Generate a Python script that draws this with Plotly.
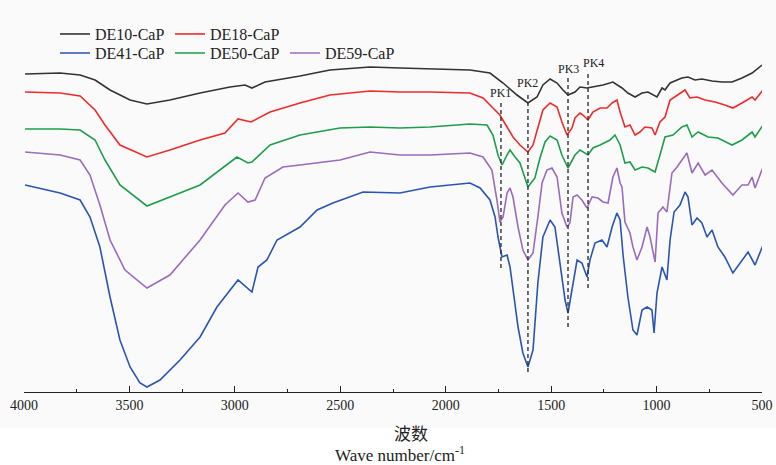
import plotly.graph_objects as go

# FTIR spectra, offset curves (arbitrary transmittance units)
wn_de10 = [3995, 3829, 3734, 3663, 3592, 3497, 3417, 3308, 3165, 3023, 2952, 2919, 2857, 2691, 2549, 2359, 2217,
           2074, 1885, 1790, 1728, 1662, 1610, 1567, 1539, 1505, 1472, 1444, 1420, 1387, 1363, 1330, 1302, 1254,
           1207, 1164, 1136, 1102, 1069, 1041, 998, 974, 960, 936, 880, 851, 818, 785, 737, 690, 642, 595, 547, 500]
t_de10 = [319, 320, 318, 313, 303, 293, 289, 293, 300, 306, 308, 305, 311, 317, 323, 326, 325,
          324, 323, 320, 310, 298, 290, 296, 308, 314, 310, 303, 298, 301, 306, 305, 306, 308,
          311, 305, 300, 296, 300, 301, 296, 305, 303, 310, 315, 316, 313, 314, 312, 311, 311, 315, 320, 328]

wn_de18 = [3995, 3829, 3734, 3663, 3616, 3545, 3417, 3308, 3165, 3047, 2985, 2923, 2833, 2691, 2549, 2359, 2217,
           2074, 1885, 1823, 1776, 1743, 1709, 1681, 1648, 1610, 1586, 1563, 1539, 1505, 1472, 1449, 1425, 1401,
           1387, 1363, 1349, 1325, 1302, 1268, 1235, 1211, 1188, 1173, 1150, 1126, 1102, 1079, 1055, 1022, 1007,
           984, 960, 936, 903, 865, 842, 808, 770, 723, 676, 638, 595, 547, 533, 495]
t_de18 = [301, 300, 297, 283, 268, 248, 236, 243, 253, 260, 274, 271, 281, 290, 298, 302, 301,
          301, 300, 295, 285, 278, 266, 256, 248, 241, 248, 265, 283, 290, 286, 271, 258, 265,
          275, 280, 278, 273, 281, 285, 285, 290, 293, 281, 266, 268, 258, 261, 266, 265, 258,
          271, 276, 293, 298, 303, 295, 296, 293, 291, 288, 285, 290, 296, 293, 303]

wn_de41 = [3995, 3829, 3734, 3687, 3640, 3592, 3545, 3497, 3450, 3417, 3355, 3260, 3165, 3085, 2985, 2919, 2890,
           2848, 2800, 2691, 2610, 2535, 2392, 2217, 2074, 1885,
           1837, 1790, 1766, 1752, 1733, 1709, 1695, 1681, 1657, 1634, 1610, 1586, 1563, 1539, 1505, 1482, 1458,
           1434, 1420, 1401, 1377, 1354, 1330, 1316, 1292, 1259, 1235, 1211, 1188, 1173, 1159, 1136, 1112, 1093,
           1069, 1045, 1022, 1012, 998, 974, 951, 936, 917, 889, 865, 851, 832, 808, 785, 761, 737, 709, 676, 638,
           595, 566, 533, 495]
t_de41 = [208, 200, 193, 176, 146, 96, 53, 26, 10, 6, 13, 33, 56, 86, 113, 101, 126,
          133, 153, 166, 183, 190, 201, 200, 206, 210,
          205, 193, 176, 156, 136, 138, 126, 103, 66, 40, 26, 43, 110, 156, 173, 166, 130,
          93, 80, 103, 133, 130, 116, 133, 150, 153, 146, 166, 180, 173, 138, 96, 63, 58,
          83, 86, 83, 60, 100, 126, 113, 153, 181, 188, 201, 196, 168, 175, 170, 156, 163, 146, 136, 120,
          133, 141, 128, 148]

wn_de50 = [3995, 3829, 3734, 3663, 3616, 3545, 3417, 3308, 3165, 2990, 2938, 2919, 2833, 2691, 2501, 2359, 2217,
           2074, 1885, 1804, 1776, 1752, 1733, 1709, 1695, 1671, 1648, 1610, 1577, 1553, 1529, 1505, 1472, 1449,
           1420, 1387, 1363, 1325, 1302, 1268, 1221, 1197, 1173, 1150, 1126, 1102, 1069, 1041, 1007, 984, 960,
           922, 880, 856, 832, 803, 756, 709, 642, 595, 547, 533, 495]
t_de50 = [264, 264, 263, 253, 233, 208, 187, 196, 208, 236, 230, 231, 248, 258, 265, 266, 265,
          266, 269, 268, 258, 238, 228, 238, 243, 236, 230, 206, 215, 235, 251, 257, 253, 238,
          225, 238, 243, 238, 245, 248, 253, 258, 248, 230, 231, 223, 226, 225, 221, 238, 256,
          258, 266, 268, 256, 261, 256, 255, 248, 253, 261, 256, 268]

wn_de59 = [3995, 3829, 3734, 3687, 3640, 3592, 3521, 3417, 3308, 3165, 3047, 2985, 2938, 2904, 2857, 2772, 2691,
           2501, 2359, 2217, 2074, 1885,
           1823, 1781, 1757, 1743, 1728, 1709, 1695, 1681, 1657, 1634, 1610, 1586, 1563, 1543, 1520, 1496, 1472,
           1449, 1425, 1411, 1396, 1377, 1354, 1330, 1306, 1278, 1254, 1230, 1207, 1188, 1173, 1164, 1150, 1126,
           1112, 1093, 1069, 1045, 1031, 1007, 993, 970, 951, 927, 903, 856, 832, 803, 770, 737, 690, 638, 595,
           566, 547, 533, 495]
t_de59 = [241, 238, 233, 218, 188, 153, 123, 105, 118, 153, 188, 200, 191, 193, 215, 226, 228,
          233, 241, 238, 238, 240,
          236, 223, 193, 171, 176, 200, 205, 196, 166, 143, 133, 140, 176, 210, 223, 225, 216,
          180, 166, 170, 196, 198, 193, 185, 196, 195, 191, 190, 216, 225, 210, 206, 171, 160,
          146, 133, 146, 166, 156, 131, 180, 186, 181, 220, 226, 240, 220, 230, 218, 223, 210, 198, 208,
          208, 216, 205, 226]

series_names = ["DE10-CaP", "DE18-CaP", "DE41-CaP", "DE50-CaP", "DE59-CaP"]
series_wn = [wn_de10, wn_de18, wn_de41, wn_de50, wn_de59]
series_t = [t_de10, t_de18, t_de41, t_de50, t_de59]
colors = ["#333333", "#ee2b2b", "#2a55b2", "#1f9d4c", "#9b6bbd"]
legend_of = ["legend", "legend", "legend2", "legend2", "legend2"]

# characteristic peaks
peak_labels = ["PK1", "PK2", "PK3", "PK4"]
peak_wn = [1738, 1610, 1420, 1325]
peak_top = [291, 301, 315, 321]
peak_bottom = [125, 21, 66, 105]

fig = go.Figure()
for name, x, y, c, lg in zip(series_names, series_wn, series_t, colors, legend_of):
    fig.add_trace(go.Scatter(x=x, y=y, mode="lines", name=name, legend=lg,
                             line=dict(color=c, width=1.6)))

for lab, w, top, bot in zip(peak_labels, peak_wn, peak_top, peak_bottom):
    fig.add_trace(go.Scatter(x=[w, w], y=[bot, top], mode="lines", showlegend=False,
                             line=dict(color="#333333", width=1.4, dash="4px,3px")))
    fig.add_annotation(x=w, y=top, text=lab, showarrow=False, yanchor="bottom",
                       xshift=5 if lab == "PK4" else 0,
                       font=dict(family="Liberation Serif", size=12, color="#222222"))

serif = "Liberation Serif"
fig.update_layout(
    width=776, height=465,
    margin=dict(l=24, r=14, t=10, b=73),
    paper_bgcolor="#fafafa", plot_bgcolor="#fafafa",
    font=dict(family=serif, size=14, color="#222222"),
    xaxis=dict(range=[4000, 500], tickvals=[4000, 3500, 3000, 2500, 2000, 1500, 1000, 500],
               ticks="inside", ticklen=6, tickcolor="#222222", showline=True, linecolor="#222222",
               linewidth=1.2, showgrid=False, zeroline=False, automargin=False,
               minor=dict(dtick=250, tick0=500, ticks="inside", ticklen=3, tickcolor="#222222"),
               tickfont=dict(family=serif, size=14)),
    yaxis=dict(visible=False, range=[1, 383]),
    legend=dict(orientation="h", x=0.042, xanchor="left", y=0.937, yanchor="middle",
                entrywidth=70, entrywidthmode="pixels", bgcolor="rgba(0,0,0,0)",
                font=dict(family=serif, size=16, color="#222222"), traceorder="normal"),
    legend2=dict(orientation="h", x=0.042, xanchor="left", y=0.887, yanchor="middle",
                 entrywidth=70, entrywidthmode="pixels", bgcolor="rgba(0,0,0,0)",
                 font=dict(family=serif, size=16, color="#222222"), traceorder="normal"),
    shapes=[dict(type="rect", xref="paper", yref="paper", x0=-0.05, x1=1.05, y0=-0.094, y1=-0.22,
                 fillcolor="white", line=dict(width=0), layer="below")],
)

fig.add_annotation(text="波数", xref="paper", yref="paper", x=0.525, y=-0.105, yanchor="middle",
                   showarrow=False, font=dict(family="Noto Sans CJK SC", size=17, color="#222222"))
fig.add_annotation(text="Wave number/cm<sup>-1</sup>", xref="paper", yref="paper", x=0.51, y=-0.162,
                   yanchor="middle", showarrow=False, font=dict(family=serif, size=17, color="#222222"))

# the page body keeps an 8px margin by default; drop it so the figure fills the window
fig.write_html("out.html", config={"displayModeBar": False},
               post_script="document.body.style.margin='0';")
